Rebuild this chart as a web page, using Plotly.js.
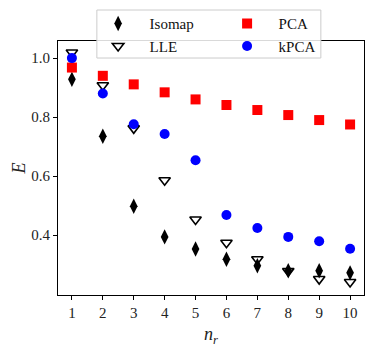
<!DOCTYPE html>
<html>
<head>
<meta charset="utf-8">
<script src="https://cdn.plot.ly/plotly-3.0.1.min.js"></script>
<style>
  body { margin: 0; background: #fff; }
  #chart { width: 374px; height: 347px; }
</style>
</head>
<body>
<div id="chart"></div>
<script>
const nr = [1, 2, 3, 4, 5, 6, 7, 8, 9, 10];
const isomap = [0.928, 0.735, 0.498, 0.394, 0.353, 0.318, 0.296, 0.279, 0.279, 0.272];
const lle    = [1.019, 0.908, 0.762, 0.586, 0.453, 0.374, 0.318, 0.278, 0.251, 0.241];
const pca    = [0.968, 0.940, 0.911, 0.884, 0.860, 0.841, 0.824, 0.807, 0.790, 0.775];
const kpca   = [1.000, 0.880, 0.776, 0.743, 0.654, 0.468, 0.424, 0.394, 0.379, 0.354];

const yTicks = [0.4, 0.6, 0.8, 1.0];
const font = "Liberation Serif, Times New Roman, serif";

function legendBox(x) {
    // one legend column, the shared frame is drawn as a shape
    return {
        x: x, xanchor: "left",
        y: 1.133, yanchor: "top",
        itemwidth: 53,
        bgcolor: "rgba(0,0,0,0)",
        borderwidth: 0,
        font: { family: font, size: 15, color: "#111" }
    };
}

function drawChart() {
    const traces = [
        { name: "Isomap", y: isomap, legend: "legend", marker: { symbol: "diamond-tall", color: "black", size: 11 } },
        { name: "LLE", y: lle, legend: "legend", marker: { symbol: "triangle-down-open", color: "black", size: 10, line: { width: 1.6 } } },
        { name: "PCA", y: pca, legend: "legend2", marker: { symbol: "square", color: "red", size: 10 } },
        { name: "kPCA", y: kpca, legend: "legend2", marker: { symbol: "circle", color: "blue", size: 10 } }
    ].map(t => Object.assign({ x: nr, type: "scatter", mode: "markers", cliponaxis: false }, t));

    const layout = {
        width: 374,
        height: 347,
        margin: { l: 58, r: 10, t: 41, b: 52, autoexpand: false },
        paper_bgcolor: "white",
        plot_bgcolor: "white",
        font: { family: font, size: 15, color: "#222" },
        xaxis: {
            range: [0.55, 10.45],
            tickvals: nr,
            ticks: "outside", ticklen: 4, tickcolor: "black",
            showline: true, linecolor: "black", linewidth: 1, mirror: true,
            showgrid: false, zeroline: false,
            title: { text: "<i>n</i><sub><i>r</i></sub>", standoff: 8 }
        },
        yaxis: {
            range: [0.197, 1.058],
            tickvals: yTicks, tickformat: ".1f",
            ticks: "outside", ticklen: 4, tickcolor: "black",
            showline: true, linecolor: "black", linewidth: 1, mirror: true,
            showgrid: false, zeroline: false,
            title: { text: "<i>E</i>", standoff: 0 }
        },
        shapes: [{
            type: "rect", xref: "paper", yref: "paper", layer: "above",
            x0: 0.127, x1: 0.859, y0: 0.933, y1: 1.122,
            fillcolor: "rgba(255,255,255,0.85)",
            line: { color: "#cccccc", width: 1 }
        }],
        legend: legendBox(0.0935),
        legend2: legendBox(0.515),
        showlegend: true
    };

    Plotly.newPlot("chart", traces, layout, { displayModeBar: false });
}

document.addEventListener("DOMContentLoaded", drawChart);
</script>
</body>
</html>
